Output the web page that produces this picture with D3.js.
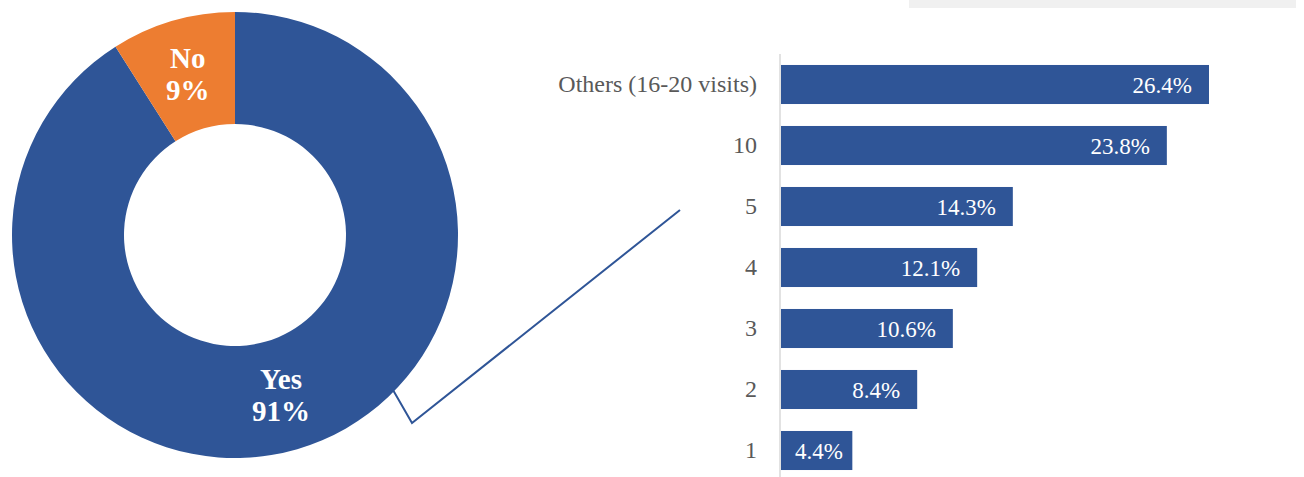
<!DOCTYPE html>
<html>
<head>
<meta charset="utf-8">
<script src="https://cdn.jsdelivr.net/npm/d3@7"></script>
<style>
  html, body { margin: 0; padding: 0; background: #fff; }
  svg { display: block; }
</style>
</head>
<body>
<svg id="chart" width="1304" height="477"></svg>
<script>
// Share of respondents who visited (donut)
const donutLabels = ["Yes", "No"];
const donutValues = [91, 9];

// Breakdown of number of visits (bars)
const visitCategories = ["Others (16-20 visits)", "10", "5", "4", "3", "2", "1"];
const visitShares = [26.4, 23.8, 14.3, 12.1, 10.6, 8.4, 4.4];

const BLUE = "#2F5597";
const ORANGE = "#ED7D31";
const SERIF = "'Liberation Serif', 'Times New Roman', serif";

const svg = d3.select("#chart");

// Header strip at the top right
svg.append("rect")
  .attr("x", 909).attr("y", 0)
  .attr("width", 387).attr("height", 8)
  .attr("fill", "#F0F0F0");

// ---------- Donut ----------
const cx = 235, cy = 235, rOuter = 223, rInner = 111;
const pie = d3.pie().sort(null).value(d => d.v)
  .startAngle(0).endAngle(2 * Math.PI);
const arcs = pie(donutLabels.map((l, i) => ({ l, v: donutValues[i] })));
const arc = d3.arc().innerRadius(rInner).outerRadius(rOuter);
const colour = d3.scaleOrdinal().domain(donutLabels).range([BLUE, ORANGE]);

const dg = svg.append("g").attr("transform", `translate(${cx},${cy})`);
dg.selectAll("path").data(arcs).join("path")
  .attr("d", arc)
  .attr("fill", d => colour(d.data.l));

// Slice labels, placed along each slice's mid-angle
const labelPos = { "Yes": 0.74, "No": 0.76 };
dg.selectAll("g.lbl").data(arcs).join("g")
  .attr("class", "lbl")
  .each(function (d) {
    const a = (d.startAngle + d.endAngle) / 2;
    const r = rOuter * labelPos[d.data.l];
    const x = r * Math.sin(a), y = -r * Math.cos(a);
    const t = d3.select(this).append("text")
      .attr("text-anchor", "middle")
      .attr("fill", "#fff")
      .attr("font-family", SERIF)
      .attr("font-weight", "bold")
      .attr("font-size", 29);
    t.append("tspan").attr("x", x).attr("y", y - 4).text(d.data.l);
    t.append("tspan").attr("x", x).attr("y", y + 28).text(d.data.v + "%");
  });

// Connector from the "Yes" slice to the breakdown
svg.append("polyline")
  .attr("points", "393,390 412,423 680,210")
  .attr("fill", "none")
  .attr("stroke", BLUE)
  .attr("stroke-width", 2);

// ---------- Bars ----------
const x0 = 781;
const x = d3.scaleLinear().domain([0, 26.4]).range([x0, 1209]);
const y = d3.scaleBand().domain(visitCategories)
  .range([54, 481]).paddingInner(0.36).paddingOuter(0.18);

const bg = svg.append("g");
bg.selectAll("rect").data(visitCategories).join("rect")
  .attr("x", x0)
  .attr("y", d => y(d))
  .attr("width", (d, i) => x(visitShares[i]) - x0)
  .attr("height", y.bandwidth())
  .attr("fill", BLUE);

// Value labels sit inside the bar end; short bars keep a left margin instead
bg.selectAll("text.val").data(visitCategories).join("text")
  .attr("class", "val")
  .attr("y", d => y(d) + y.bandwidth() / 2)
  .attr("dy", "0.35em")
  .attr("text-anchor", "start")
  .attr("fill", "#fff")
  .attr("font-family", SERIF)
  .attr("font-size", 23)
  .text((d, i) => visitShares[i].toFixed(1) + "%")
  .each(function (d, i) {
    const w = this.getComputedTextLength();
    const left = Math.max(x(visitShares[i]) - 17 - w, x0 + 14);
    d3.select(this).attr("x", left);
  });

// Category axis
const axis = d3.axisLeft(y).tickSize(0).tickPadding(23);
const ag = svg.append("g").attr("transform", `translate(${x0 - 1},0)`).call(axis);
ag.select(".domain")
  .attr("d", "M0,54V477")
  .attr("stroke", "#D9D9D9")
  .attr("stroke-width", 1.5);
ag.selectAll("text")
  .attr("fill", "#595959")
  .attr("font-family", SERIF)
  .attr("font-size", 24);
</script>
</body>
</html>
